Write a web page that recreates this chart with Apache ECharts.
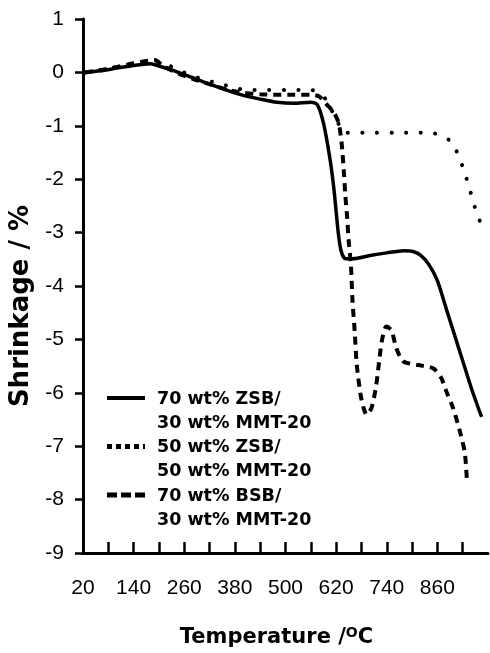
<!DOCTYPE html>
<html>
<head>
<meta charset="utf-8">
<script src="https://cdn.jsdelivr.net/npm/echarts@6/dist/echarts.min.js"></script>
<style>
html, body { margin: 0; padding: 0; background: #fff; }
#chart { width: 490px; height: 653px; }
</style>
</head>
<body>
<div id="chart"></div>
<script>
// 温度 (°C) 与收缩率 (%)
var T0 = 20;            // x 轴起点
var xTicks = [20, 140, 260, 380, 500, 620, 740, 860];
var yTicks = [1, 0, -1, -2, -3, -4, -5, -6, -7, -8, -9];

// 70 wt% ZSB / 30 wt% MMT-20
var zsb70 = [
	[25, 0], [60, 0.03], [100, 0.08], [140, 0.13], [180, 0.16], [200, 0.12],
	[240, 0.02], [280, -0.1], [320, -0.22], [360, -0.33], [400, -0.43], [440, -0.5],
	[480, -0.56], [520, -0.58], [560, -0.56], [575, -0.6], [590, -0.95], [605, -1.6],
	[615, -2.2], [625, -3.0], [632, -3.35], [642, -3.49], [660, -3.49], [700, -3.43],
	[740, -3.38], [780, -3.34], [800, -3.35], [820, -3.42], [840, -3.6], [860, -3.9],
	[880, -4.4], [900, -4.9], [920, -5.4], [940, -5.9], [960, -6.35], [965, -6.45]
];
// 50 wt% ZSB / 50 wt% MMT-20
var zsb50 = [
	[25, 0], [60, 0.04], [100, 0.1], [140, 0.16], [180, 0.2], [200, 0.2],
	[232, 0.1], [265, -0.02], [300, -0.12], [348, -0.22], [385, -0.3], [420, -0.33],
	[460, -0.33], [500, -0.33], [560, -0.33], [580, -0.38], [600, -0.55], [612, -0.75],
	[625, -0.95], [635, -1.12], [660, -1.13], [700, -1.13], [760, -1.13], [820, -1.13],
	[850, -1.14], [870, -1.18], [895, -1.32], [911, -1.58], [923, -1.84], [935, -2.14],
	[946, -2.45], [956, -2.7], [965, -2.85]
];
// 70 wt% BSB / 30 wt% MMT-20
var bsb70 = [
	[25, 0], [60, 0.04], [100, 0.1], [140, 0.17], [190, 0.23], [210, 0.12],
	[240, 0.0], [280, -0.12], [320, -0.22], [360, -0.32], [400, -0.38], [440, -0.41],
	[480, -0.42], [520, -0.42], [560, -0.42], [580, -0.45], [595, -0.58], [614, -0.74],
	[626, -0.95], [633, -1.32], [638, -1.82], [642, -2.32], [646, -2.7], [650, -3.18],
	[655, -3.6], [659, -4.3], [664, -4.85], [669, -5.48], [678, -6.04], [685, -6.28],
	[692, -6.41], [704, -6.28], [715, -5.86], [722, -5.41], [729, -5.0], [739, -4.76],
	[751, -4.83], [763, -5.17], [779, -5.41], [814, -5.48], [850, -5.54], [869, -5.72],
	[880, -5.95], [897, -6.28], [913, -6.71], [925, -7.12], [930, -7.65]
];

var legendNames = [
	['70 wt% ZSB/', '30 wt% MMT-20'],
	['50 wt% ZSB/', '50 wt% MMT-20'],
	['70 wt% BSB/', '30 wt% MMT-20']
];

var FONT = '"Liberation Sans", Arial, sans-serif';
var BOLD_FONT = '"DejaVu Sans", sans-serif';

// x 轴以 T0 为零点, 刻度间隔 60
function shift(arr) {
	return arr.map(function (p) { return [p[0] - T0, p[1]]; });
}

var lineStyles = [
	{ color: '#000', width: 3.5, type: 'solid' },
	{ color: '#000', width: 4, type: [0.1, 14.5], cap: 'round' },
	{ color: '#000', width: 4, type: [8, 6] }
];

var chart = echarts.init(document.getElementById('chart'), null, { renderer: 'canvas' });

// 图例 (手动绘制)
var legendGraphic = [];
var lgX = 107, lgY = 398, lgRow = 48.5;
legendNames.forEach(function (nm, i) {
	var y = lgY + i * lgRow;
	legendGraphic.push({
		type: 'line',
		shape: { x1: lgX, y1: y, x2: lgX + 38, y2: y },
		style: {
			stroke: '#000',
			lineWidth: i === 0 ? 4 : 5,
			lineDash: i === 0 ? null : (i === 1 ? [5, 4] : [10, 4])
		}
	});
	legendGraphic.push({
		type: 'text',
		left: lgX + 50, top: y - 11,
		style: {
			text: nm[0] + '\n' + nm[1],
			font: 'bold 17.5px ' + BOLD_FONT,
			fill: '#000',
			lineHeight: 24
		}
	});
});

var option = {
	animation: false,
	backgroundColor: '#fff',
	grid: { left: 83, right: 2, top: 19, bottom: 96 },
	xAxis: {
		type: 'value',
		min: 0,
		max: 960,
		interval: 60,
		name: 'Temperature /{sup|O}C',
		nameLocation: 'middle',
		nameGap: 73,
		nameTextStyle: {
			fontFamily: BOLD_FONT, fontSize: 21, fontWeight: 'bold', color: '#000',
			padding: [0, 18, 0, 0],
			rich: {
				sup: { fontFamily: BOLD_FONT, fontSize: 14, fontWeight: 'bold', color: '#000', verticalAlign: 'top', padding: [0, 0, 9, 0] }
			}
		},
		axisLine: { onZero: false, lineStyle: { color: '#000', width: 3 } },
		axisTick: { show: true, inside: true, length: 11, lineStyle: { color: '#000', width: 2.5 } },
		splitLine: { show: false },
		axisLabel: {
			margin: 25,
			fontFamily: FONT, fontSize: 21, color: '#000',
			showMaxLabel: false,
			formatter: function (v) {
				var t = v + T0;
				return xTicks.indexOf(t) >= 0 ? String(t) : '';
			}
		}
	},
	yAxis: {
		type: 'value',
		min: -9,
		max: 1,
		interval: 1,
		name: 'Shrinkage / %',
		nameLocation: 'middle',
		nameGap: 48,
		nameTextStyle: {
			fontFamily: BOLD_FONT, fontSize: 26, fontWeight: 'bold', color: '#000',
			padding: [0, 40, 0, 0]
		},
		axisLine: { show: true, onZero: false, lineStyle: { color: '#000', width: 3 } },
		axisTick: { show: true, length: 8, lineStyle: { color: '#000', width: 2.5 } },
		splitLine: { show: false },
		axisLabel: {
			margin: 19,
			fontFamily: FONT, fontSize: 21, color: '#000',
			formatter: function (v) {
				return yTicks.indexOf(v) >= 0 ? String(v) : '';
			}
		}
	},
	series: [
		{ name: legendNames[0].join(' '), type: 'line', data: shift(zsb70), showSymbol: false, smooth: 0.25, lineStyle: lineStyles[0] },
		{ name: legendNames[1].join(' '), type: 'line', data: shift(zsb50), showSymbol: false, smooth: 0.25, lineStyle: lineStyles[1] },
		{ name: legendNames[2].join(' '), type: 'line', data: shift(bsb70), showSymbol: false, smooth: 0.25, lineStyle: lineStyles[2] }
	],
	graphic: legendGraphic
};

chart.setOption(option);
</script>
</body>
</html>
